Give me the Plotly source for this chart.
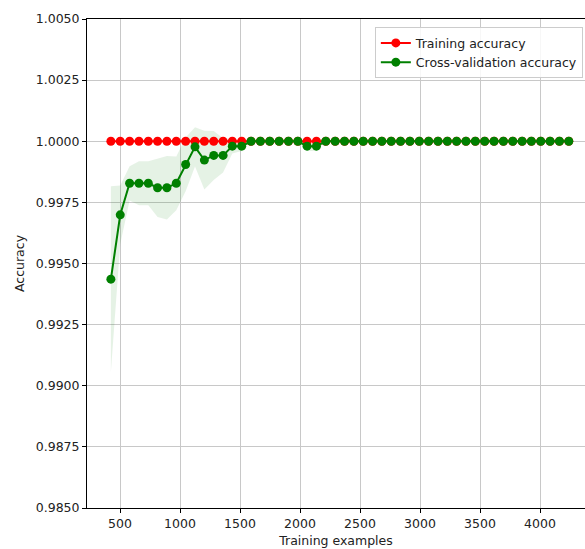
import plotly.graph_objects as go

# Learning-curve data: training set sizes and mean / std accuracy per size
train_sizes = [424, 502, 580, 658, 736, 813, 891, 969, 1047, 1125,
               1203, 1281, 1359, 1436, 1514, 1592, 1670, 1748, 1826, 1904,
               1982, 2059, 2137, 2215, 2293, 2371, 2449, 2527, 2605, 2682,
               2760, 2838, 2916, 2994, 3072, 3150, 3228, 3305, 3383, 3461,
               3539, 3617, 3695, 3773, 3851, 3928, 4006, 4084, 4162, 4240]

train_mean = [1.0] * 50

test_mean = [0.99436, 0.99699, 0.99828, 0.99828, 0.99828, 0.99810, 0.99810, 0.99828,
             0.99905, 0.99977, 0.99923, 0.99942, 0.99942, 0.99980, 0.99980,
             1.0, 1.0, 1.0, 1.0, 1.0, 1.0,
             0.99980, 0.99980,
             1.0, 1.0, 1.0, 1.0, 1.0, 1.0, 1.0, 1.0, 1.0, 1.0,
             1.0, 1.0, 1.0, 1.0, 1.0, 1.0, 1.0, 1.0, 1.0, 1.0,
             1.0, 1.0, 1.0, 1.0, 1.0, 1.0, 1.0]

test_std = [0.0038, 0.0012, 0.0007, 0.0009, 0.0009, 0.0012, 0.0013, 0.0011,
            0.0011, 0.0008, 0.0012, 0.0010, 0.0007, 0.0003, 0.0002,
            0.0, 0.0, 0.0, 0.0, 0.0, 0.0,
            0.0002, 0.0002,
            0.0, 0.0, 0.0, 0.0, 0.0, 0.0, 0.0, 0.0, 0.0, 0.0,
            0.0, 0.0, 0.0, 0.0, 0.0, 0.0, 0.0, 0.0, 0.0, 0.0,
            0.0, 0.0, 0.0, 0.0, 0.0, 0.0, 0.0]

y_ticks = [0.985, 0.9875, 0.99, 0.9925, 0.995, 0.9975, 1.0, 1.0025, 1.005]
x_ticks = [500, 1000, 1500, 2000, 2500, 3000, 3500, 4000]

upper = [m + s for m, s in zip(test_mean, test_std)]
lower = [m - s for m, s in zip(test_mean, test_std)]

FONT = "DejaVu Sans"
TXT = "#222222"

fig = go.Figure()

# std band around the cross-validation curve
fig.add_trace(go.Scatter(x=train_sizes, y=upper, mode="lines",
                         line=dict(width=0, color="rgba(0,128,0,0)"),
                         showlegend=False, hoverinfo="skip"))
fig.add_trace(go.Scatter(x=train_sizes, y=lower, mode="lines",
                         line=dict(width=0, color="rgba(0,128,0,0)"),
                         fill="tonexty", fillcolor="rgba(0,128,0,0.1)",
                         showlegend=False, hoverinfo="skip"))

fig.add_trace(go.Scatter(x=train_sizes, y=train_mean, mode="lines+markers",
                         name="Training accuracy",
                         line=dict(color="#ff0000", width=2),
                         marker=dict(color="#ff0000", size=9)))
fig.add_trace(go.Scatter(x=train_sizes, y=test_mean, mode="lines+markers",
                         name="Cross-validation accuracy",
                         line=dict(color="#008000", width=2),
                         marker=dict(color="#008000", size=9)))

fig.update_layout(
    width=585, height=549,
    margin=dict(l=87, r=0, t=19, b=41),
    paper_bgcolor="white", plot_bgcolor="white",
    font=dict(family=FONT, size=12.5, color=TXT),
    legend=dict(x=0.578, y=0.983, xanchor="left", yanchor="top",
                traceorder="normal",
                bgcolor="rgba(255,255,255,0.85)", bordercolor="#cccccc",
                borderwidth=1, font=dict(size=12.5, color=TXT),
                tracegroupgap=0, itemwidth=30),
)

fig.update_xaxes(
    range=[225, 4375], tickvals=x_ticks,
    showgrid=True, gridcolor="#c8c8c8", gridwidth=1,
    showline=True, linecolor="black", linewidth=1, mirror=True,
    ticks="outside", ticklen=4, tickcolor="black",
    zeroline=False,
    title=dict(text="Training examples", font=dict(size=12.5, color=TXT), standoff=6),
)
fig.update_yaxes(
    range=[0.985, 1.005], tickvals=y_ticks, tickformat=".4f",
    showgrid=True, gridcolor="#c8c8c8", gridwidth=1,
    showline=True, linecolor="black", linewidth=1,
    ticks="outside", ticklen=4, tickcolor="black",
    zeroline=False,
    title=dict(text="Accuracy", font=dict(size=12.5, color=TXT), standoff=8),
)

fig.write_html("out.html")
